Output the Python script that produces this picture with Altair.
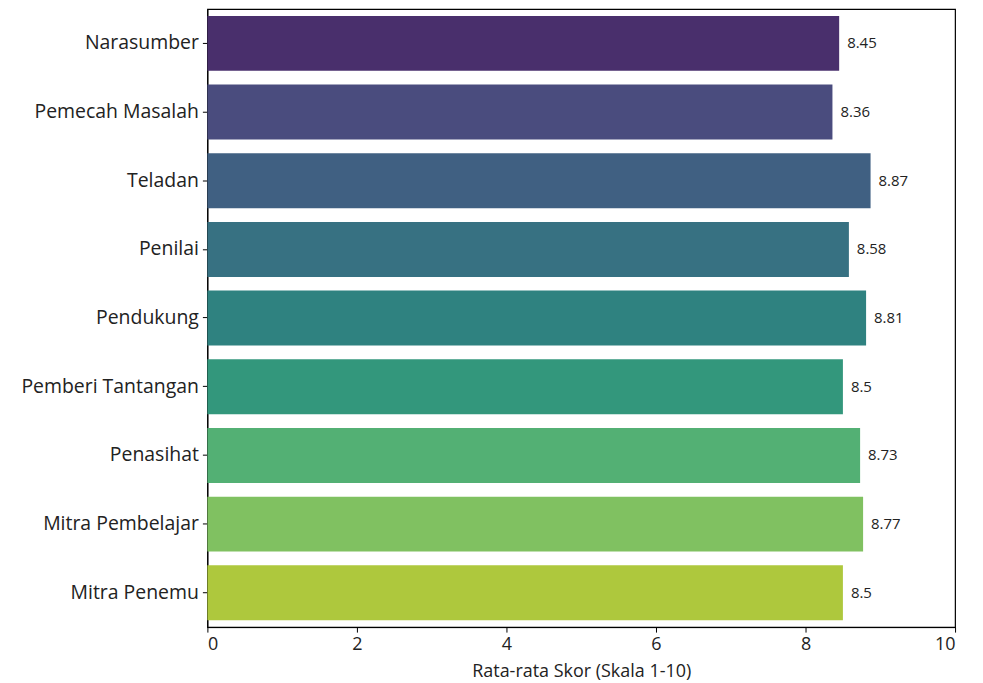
import colorsys
import altair as alt
import pandas as pd

categories = ["Narasumber", "Pemecah Masalah", "Teladan", "Penilai", "Pendukung",
              "Pemberi Tantangan", "Penasihat", "Mitra Pembelajar", "Mitra Penemu"]
scores = [8.45, 8.36, 8.87, 8.58, 8.81, 8.5, 8.73, 8.77, 8.5]
score_labels = ["8.45", "8.36", "8.87", "8.58", "8.81", "8.5", "8.73", "8.77", "8.5"]
x_ticks = [0, 2, 4, 6, 8, 10]

viridis = ["#482576", "#414487", "#35608d", "#2a788e", "#21908d",
           "#22a884", "#44bf70", "#7ad151", "#bddf26"]


def desat(h, f=0.75):
    r, g, b = (int(h[i:i + 2], 16) / 255 for i in (1, 3, 5))
    hh, l, s = colorsys.rgb_to_hls(r, g, b)
    r, g, b = colorsys.hls_to_rgb(hh, l, s * f)
    return "#%02x%02x%02x" % (round(r * 255), round(g * 255), round(b * 255))


colors = [desat(c) for c in viridis]

df = pd.DataFrame({"cat": categories, "score": scores, "label": score_labels})

FONT = "Open Sans"

y_enc = alt.Y("cat:N", sort=categories, title=None,
              scale=alt.Scale(paddingInner=0.2, paddingOuter=0.1),
              axis=alt.Axis(labelFont=FONT, labelFontSize=19.5, labelColor="#222",
                            labelPadding=4, tickSize=5, tickColor="black",
                            domainColor="black", labelLimit=300))
x_enc = alt.X("score:Q", title="Rata-rata Skor (Skala 1-10)",
              scale=alt.Scale(domain=[0, 10], nice=False),
              axis=alt.Axis(values=x_ticks, format="d", grid=False,
                            labelFont=FONT, labelFontSize=18, labelColor="#222",
                            labelPadding=3,
                            titleFont=FONT, titleFontSize=18, titleFontWeight="normal",
                            titleColor="#222", titlePadding=10,
                            tickSize=5, tickColor="black", domainColor="black"))

bars = alt.Chart(df).mark_bar().encode(
    y=y_enc, x=x_enc,
    color=alt.Color("cat:N", sort=categories,
                    scale=alt.Scale(domain=categories, range=colors), legend=None),
)

text = alt.Chart(df).mark_text(align="left", baseline="middle", dx=8,
                               font=FONT, fontSize=15, color="#222").encode(
    y=alt.Y("cat:N", sort=categories), x="score:Q", text="label:N")

chart = (bars + text).properties(
    width=750, height=620,
    autosize=alt.AutoSizeParams(type="none"),
    padding={"left": 200, "top": 0, "right": 20, "bottom": 55},
).configure_view(stroke="black", strokeWidth=1.2).configure_axis(grid=False)

chart.save("out.html", embed_options={"renderer": "svg", "actions": False})
